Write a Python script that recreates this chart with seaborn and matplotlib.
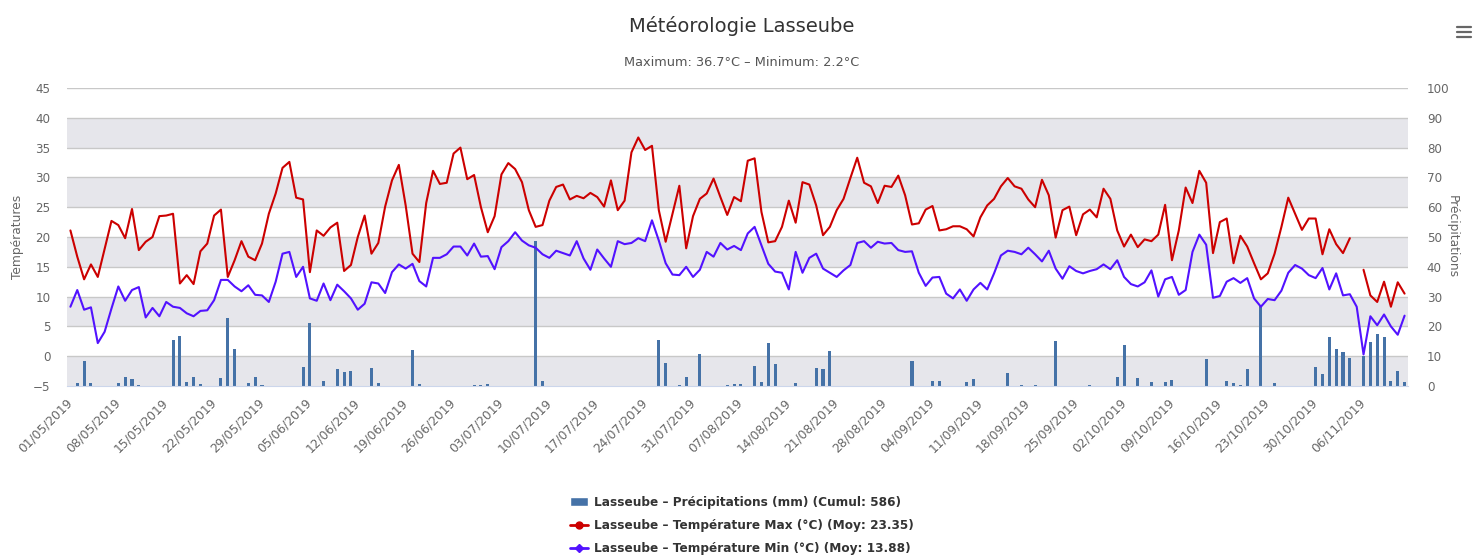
import numpy as np
import pandas as pd
import seaborn as sns
import matplotlib.pyplot as plt
from matplotlib.lines import Line2D
from matplotlib.patches import Patch

# Données journalières du 01/05/2019 au 12/11/2019
debut = '2019-05-01'

temp_max = [
    21.1, 16.7, 12.9, 15.4, 13.3, 18.0, 22.7, 22.0, 19.8, 24.7, 17.8, 19.2, 20.0, 23.5,
    23.6, 23.9, 12.2, 13.6, 12.1, 17.6, 18.9, 23.6, 24.6, 13.3, 16.1, 19.3, 16.7,
    16.1, 18.9, 23.9, 27.3, 31.6, 32.6, 26.6, 26.3, 14.1, 21.1, 20.2, 21.6, 22.4, 14.3,
    15.3, 20.0, 23.6, 17.2, 19.0, 25.1, 29.5, 32.1, 25.3, 17.2, 15.8, 25.7, 31.1, 28.9,
    29.1, 34.0, 35.0, 29.7, 30.4, 25.0,
    20.8, 23.5, 30.5, 32.4, 31.4, 29.2, 24.5, 21.7, 22.0, 26.1, 28.4, 28.8, 26.3, 26.9,
    26.5, 27.4, 26.7, 25.1, 29.5, 24.5, 26.1, 34.2, 36.7, 34.6, 35.3, 24.5, 19.2, 23.9,
    28.6, 18.1, 23.5, 26.4, 27.3,
    29.8, 26.7, 23.7, 26.7, 26.0, 32.8, 33.2, 24.2, 19.1, 19.3, 21.7, 26.1, 22.4, 29.2,
    28.8, 25.3, 20.3, 21.7, 24.5, 26.4, 29.9, 33.3, 29.1, 28.5, 25.7, 28.6, 28.4, 30.3,
    27.0, 22.1, 22.3, 24.6, 25.2, 21.1,
    21.3, 21.8, 21.8, 21.3, 20.1, 23.3, 25.3, 26.4, 28.5, 29.9, 28.5, 28.1, 26.3, 25.0,
    29.6, 27.0, 19.9, 24.5, 25.1, 20.3, 23.8, 24.6, 23.3, 28.1, 26.4, 21.1, 18.4, 20.4,
    18.3, 19.6, 19.3, 20.4, 25.4,
    16.1, 21.1, 28.3, 25.7, 31.1, 29.1, 17.3, 22.5, 23.1, 15.6, 20.2, 18.4, 15.6, 12.9,
    13.9, 17.2, 21.7, 26.6, 23.9, 21.2, 23.1, 23.1, 17.1, 21.3, 18.8, 17.3, 19.8, np.nan,
    14.5, 10.2, 9.1, 12.5, 8.3, 12.4, 10.5,
]

temp_min = [
    8.3, 11.1, 7.8, 8.2, 2.2, 4.1, 8.0, 11.7, 9.3, 11.1, 11.6, 6.5, 8.1, 6.7,
    9.1, 8.3, 8.1, 7.2, 6.7, 7.6, 7.7, 9.4, 12.8, 12.8, 11.7, 10.9, 11.9,
    10.3, 10.2, 9.1, 12.5, 17.2, 17.5, 13.3, 15.0, 9.7, 9.3, 12.2, 9.4, 12.0, 10.9,
    9.7, 7.8, 8.8, 12.4, 12.2, 10.6, 14.1, 15.4, 14.7, 15.5, 12.6, 11.7, 16.5, 16.5,
    17.1, 18.4, 18.4, 16.9, 18.9, 16.7,
    16.8, 14.6, 18.3, 19.3, 20.8, 19.4, 18.6, 18.2, 17.1, 16.5, 17.7, 17.3, 16.9, 19.3,
    16.4, 14.5, 17.9, 16.4, 15.0, 19.3, 18.8, 19.0, 19.8, 19.3, 22.8, 19.4, 15.6, 13.7,
    13.6, 15.0, 13.3, 14.5, 17.5,
    16.7, 19.0, 17.9, 18.5, 17.8, 20.6, 21.7, 18.6, 15.5, 14.2, 14.0, 11.2, 17.5, 14.0,
    16.5, 17.2, 14.7, 14.0, 13.3, 14.4, 15.3, 19.0, 19.3, 18.2, 19.2, 18.9, 19.0, 17.8,
    17.5, 17.6, 14.0, 11.8, 13.2, 13.3,
    10.5, 9.7, 11.2, 9.3, 11.2, 12.3, 11.2, 13.9, 16.9, 17.7, 17.5, 17.1, 18.2, 17.1,
    15.9, 17.7, 14.7, 13.0, 15.1, 14.3, 13.9, 14.3, 14.6, 15.4, 14.6, 16.1, 13.3, 12.1,
    11.7, 12.4, 14.4, 10.0, 12.9,
    13.3, 10.3, 11.1, 17.5, 20.4, 18.7, 9.8, 10.1, 12.5, 13.1, 12.3, 13.1, 9.7, 8.3,
    9.6, 9.4, 11.0, 14.0, 15.3, 14.7, 13.6, 13.1, 14.8, 11.2, 13.9, 10.2, 10.4, 8.3,
    0.3, 6.7, 5.2, 7.0, 5.0, 3.6, 6.8,
]

precipitations = [
    0, 1.1, 8.4, 1.1, 0, 0, 0, 1.1, 3.1, 2.2, 0.2, 0, 0, 0,
    0, 15.6, 16.7, 1.5, 3.1, 0.7, 0, 0, 2.6, 22.7, 12.3, 0, 1.1, 3.1,
    0.2, 0, 0, 0, 0, 0, 6.5, 21.0, 0, 1.7, 0, 5.7, 4.8, 5.1,
    0, 0, 6.1, 1.1, 0, 0, 0, 0, 12.1, 0.7, 0, 0, 0, 0,
    0, 0, 0, 0.3, 0.4, 0.8, 0.1, 0, 0, 0, 0, 0, 48.7, 1.7,
    0, 0, 0, 0, 0, 0, 0, 0.1, 0, 0, 0.1, 0, 0, 0,
    0, 0, 15.4, 7.8, 0, 0.3, 2.9, 0, 10.9, 0, 0, 0, 0.3, 0.7,
    0.7, 0, 6.8, 1.5, 14.3, 7.3, 0, 0, 0.9, 0, 0, 6.1, 5.7, 11.7,
    0, 0, 0, 0, 0, 0.1, 0, 0, 0, 0, 0.1, 8.4, 0, 0,
    1.7, 1.8, 0, 0, 0, 1.2, 2.2, 0, 0, 0, 0, 4.5, 0, 0.2,
    0.1, 0.2, 0, 0, 15.2, 0, 0, 0.1, 0, 0.2, 0.1, 0, 0, 3.1,
    13.9, 0, 2.6, 0, 1.5, 0, 1.5, 2.0, 0, 0, 0, 0, 8.9, 0,
    0, 1.7, 0.9, 0.3, 5.6, 0, 27.0, 0, 1.1, 0.1, 0, 0, 0, 0,
    6.5, 4.0, 16.3, 12.4, 11.3, 9.5, 0, 10.0, 14.6, 17.6, 16.3, 1.7, 5.1, 1.5,
]

legendes = [
    'Lasseube – Précipitations (mm) (Cumul: 586)',
    'Lasseube – Température Max (°C) (Moy: 23.35)',
    'Lasseube – Température Min (°C) (Moy: 13.88)',
]

rouge = '#cc0000'
violet = '#5212ff'
bleu = '#4572a7'
gris = '#666666'

jours = pd.date_range(debut, periods=len(temp_max))
df = pd.DataFrame({
    'jour': np.arange(len(jours)),
    'tmax': temp_max,
    'tmin': temp_min,
    'pluie': precipitations,
})
df['segment'] = df['tmax'].isna().cumsum()

sns.set_style('white')
plt.rcParams['font.family'] = ['DejaVu Sans']

W, H = 1483, 555
fig = plt.figure(figsize=(W / 100, H / 100), dpi=100)
ax = fig.add_axes([67 / W, 1 - 386 / H, (1408 - 67) / W, (386 - 88) / H])
ax2 = ax.twinx()

# bandes alternées + grille
for b in range(0, 100, 20):
    ax.axhspan(b, b + 10, color='#e6e6eb', lw=0, zorder=0)
for g in range(10, 101, 10):
    ax.axhline(g, color='#c8c8c8', lw=1, zorder=0.5)

sns.barplot(data=df, x='jour', y='pluie', ax=ax, color=bleu, width=0.45,
            saturation=1, linewidth=0, zorder=2)

sns.lineplot(data=df, x='jour', y='tmax', units='segment', estimator=None,
             ax=ax2, color=rouge, lw=1.5)
sns.lineplot(data=df, x='jour', y='tmin', ax=ax2, color=violet, lw=1.5)

ax.set_ylim(0, 100)
ax2.set_ylim(-5, 45)
ax.set_xlim(-0.5, len(jours) - 0.5)

ax.yaxis.tick_right()
ax.yaxis.set_label_position('right')
ax2.yaxis.tick_left()
ax2.yaxis.set_label_position('left')

ax.set_yticks(range(0, 101, 10))
ax2.set_yticks(range(-5, 46, 5))
ax.tick_params(axis='y', length=0, pad=13.5, labelsize=8.6, labelcolor=gris)
ax2.tick_params(axis='y', length=0, pad=12, labelsize=8.6, labelcolor=gris)

pos = list(range(0, len(jours), 7))
ax.set_xticks(pos)
ax.set_xticklabels([jours[p].strftime('%d/%m/%Y') for p in pos], rotation=45,
                   ha='right', va='center', rotation_mode='anchor')
ax.tick_params(axis='x', length=7.2, width=1, color='#ccd6eb', pad=3.5,
               labelsize=8.8, labelcolor=gris)

for s in ax.spines.values():
    s.set_visible(False)
for s in ax2.spines.values():
    s.set_visible(False)
ax.spines['bottom'].set_visible(True)
ax.spines['bottom'].set_color('#ccd6eb')

ax.set_xlabel('')
ax.set_ylabel('Précipitations', color=gris, fontsize=8.8, rotation=270)
ax.yaxis.set_label_coords((1459 - 67) / (1408 - 67), 0.5)
ax2.set_xlabel('')
ax2.set_ylabel('Températures', color=gris, fontsize=8.8)
ax2.yaxis.set_label_coords((24 - 67) / (1408 - 67), 0.5)

fig.text(0.5, 1 - 26 / H, 'Météorologie Lasseube', ha='center', va='center',
         fontsize=14, color='#333333')
fig.text(0.5, 1 - 62 / H, 'Maximum: 36.7°C – Minimum: 2.2°C', ha='center',
         va='center', fontsize=9.3, color='#555555')

# menu
for dy in (-5, 0, 5):
    fig.add_artist(Line2D([1457 / W, 1471 / W], [1 - (32 + dy) / H] * 2,
                          color=gris, lw=1.6))

poignees = [
    Patch(facecolor=bleu),
    Line2D([0], [0], color=rouge, lw=2, marker='o', ms=5),
    Line2D([0], [0], color=violet, lw=2, marker='D', ms=4),
]
leg = fig.legend(poignees, legendes, loc='upper center',
                 bbox_to_anchor=(0.5, 1 - 491 / H), frameon=False,
                 prop={'weight': 'bold', 'size': 8.7}, labelspacing=0.85,
                 handlelength=1.5, handletextpad=0.5, borderaxespad=0)
for t in leg.get_texts():
    t.set_color('#333333')

fig.savefig('out.png', dpi=100)
